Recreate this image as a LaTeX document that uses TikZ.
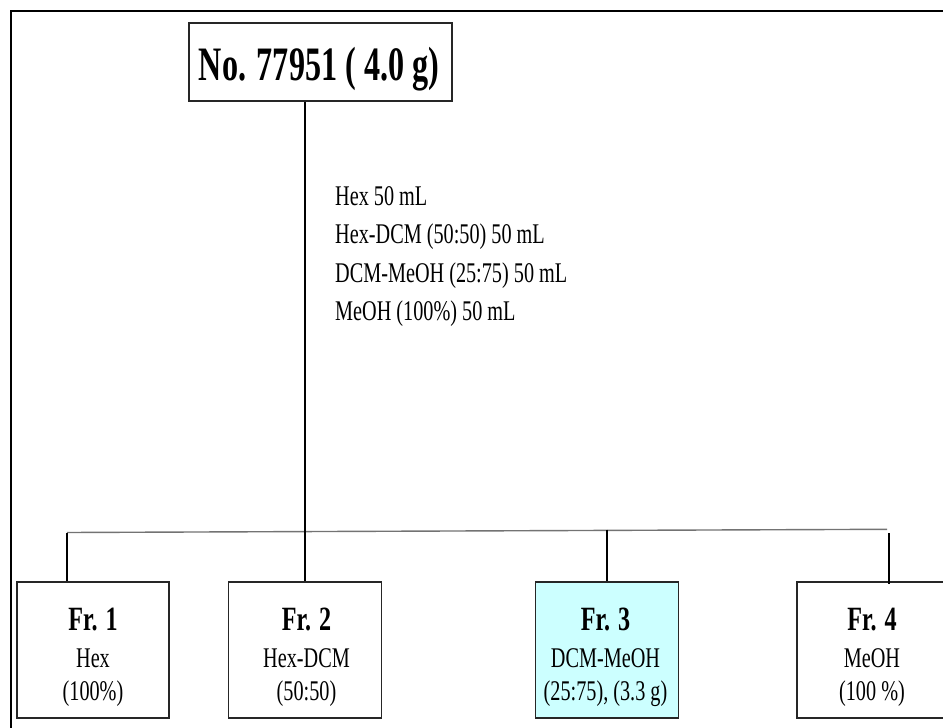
\documentclass[tikz,border=0pt]{standalone}
\usepackage{fontspec}
\setmainfont[FakeStretch=0.71]{Liberation Serif}
\newfontfamily\titlefont[FakeStretch=0.67]{Liberation Serif}
\definecolor{frcyan}{RGB}{204,255,255}
\begin{document}
\begin{tikzpicture}[x=1pt,y=-1pt,
  fbox/.style={draw=black!85,line width=1.4pt,inner sep=0pt,minimum height=136pt},
  headtxt/.style={anchor=base,inner sep=0pt,font=\bfseries\fontsize{34}{34}\selectfont},
  subtxt/.style={anchor=base,inner sep=0pt,font=\fontsize{28.5}{28.5}\selectfont},
  steptxt/.style={anchor=base west,inner sep=0pt,font=\fontsize{28.5}{28.5}\selectfont},
  conn/.style={line width=1.1pt,draw=black},
  busline/.style={line width=1.4pt,draw=black!55}]
\clip (0,0) rectangle (943,728);
\fill[white] (0,0) rectangle (943,728);
% outer frame
\draw[line width=2.5pt] (11,740) -- (11,11) -- (950,11);
% top box
\node[draw=black!85,line width=1.4pt,inner sep=0pt,minimum width=263pt,minimum height=78pt] (top) at (320.5,62) {};
\node[anchor=base,inner sep=0pt,font=\titlefont\bfseries\fontsize{48}{48}\selectfont] (toptxt) at (319,80) {No. 77951 ( 4.0 g)};
% step text
\node[steptxt] (s1) at (335,205) {Hex 50 mL};
\node[steptxt] (s2) at (335,243) {Hex-DCM (50:50) 50 mL};
\node[steptxt] (s3) at (335,282) {DCM-MeOH (25:75) 50 mL};
\node[steptxt] (s4) at (335,320) {MeOH (100\%) 50 mL};
% fraction boxes
\node[fbox,minimum width=152pt] (fr1) at (93,650) {};
\node[fbox,minimum width=153pt] (fr2) at (305,650) {};
\node[fbox,minimum width=143pt,fill=frcyan] (fr3) at (607,650) {};
\node[fbox,minimum width=150pt] (fr4) at (872,650) {};
\node[headtxt] (fr1a) at (93,630) {Fr. 1};
\node[subtxt] (fr1b) at (93,667) {Hex};
\node[subtxt] (fr1c) at (93,700) {(100\%)};
\node[headtxt] (fr2a) at (306.5,630) {Fr. 2};
\node[subtxt] (fr2b) at (306.5,667) {Hex-DCM};
\node[subtxt] (fr2c) at (306.5,700) {(50:50)};
\node[headtxt] (fr3a) at (605.5,630) {Fr. 3};
\node[subtxt] (fr3b) at (605.5,667) {DCM-MeOH};
\node[subtxt] (fr3c) at (605.5,700) {(25:75), (3.3 g)};
\node[headtxt] (fr4a) at (872,630) {Fr. 4};
\node[subtxt] (fr4b) at (872,667) {MeOH};
\node[subtxt] (fr4c) at (872,700) {(100 \%)};
% bus
\coordinate (busL) at (67,532.5);
\coordinate (busR) at (887,529.3);
\coordinate (bus3) at (607,529.6);
\coordinate (v4top) at (889,533);
\coordinate (v4bot) at (889,584);
\draw[busline] (busL) -- (busR);
% connectors
\draw[conn] (fr2.north |- top.south) -- (fr2.north);
\draw[conn] (busL) -- (busL |- fr1.north);
\draw[conn] (bus3) -- (fr3.north);
\draw[conn] (v4top) -- (v4bot);
\end{tikzpicture}
\end{document}
